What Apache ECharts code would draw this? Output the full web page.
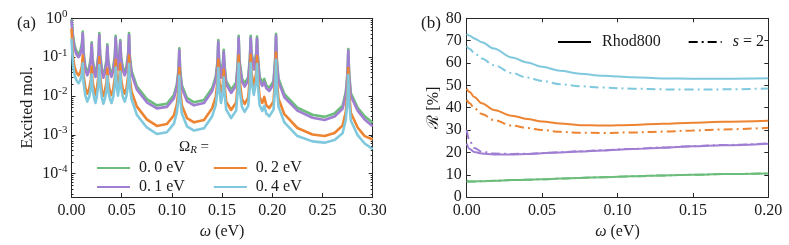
<!DOCTYPE html>
<html><head><meta charset="utf-8">
<script src="https://cdn.jsdelivr.net/npm/echarts@6/dist/echarts.min.js"></script>
<style>html,body{margin:0;padding:0;background:#fff}#c{width:789px;height:245px}</style>
</head><body><div id="c"></div>
<script>
// ---------- Panel (a): excited molecules vs omega (log scale) ----------
const omegaA = [0, 0.0015, 0.003, 0.005, 0.007,
  0.0087, 0.0104, 0.0112, 0.012, 0.0137,
  0.0157, 0.0176, 0.0193, 0.0201, 0.0209,
  0.0226, 0.0239, 0.0252, 0.0269, 0.0277,
  0.0285, 0.0302, 0.0317, 0.0332, 0.0349,
  0.0357, 0.0365, 0.0382, 0.0398, 0.0415,
  0.0432, 0.044, 0.0448, 0.0463, 0.0478,
  0.0486, 0.0494, 0.0511, 0.053, 0.0548,
  0.0565, 0.0573, 0.0581, 0.0598, 0.065,
  0.075, 0.085, 0.095, 0.102, 0.1049,
  0.1066, 0.1074, 0.1082, 0.1099, 0.115,
  0.122, 0.132, 0.14, 0.1437, 0.1454,
  0.1462, 0.147, 0.1489, 0.1508, 0.1516,
  0.1524, 0.1541, 0.159, 0.164, 0.1657,
  0.1665, 0.1673, 0.1698, 0.1725, 0.176,
  0.1777, 0.1785, 0.1793, 0.1816, 0.184,
  0.1848, 0.1856, 0.1873, 0.19, 0.192,
  0.194, 0.197, 0.2012, 0.2029, 0.2037,
  0.2045, 0.2062, 0.212, 0.225, 0.24,
  0.252, 0.262, 0.27, 0.2732, 0.2749,
  0.2757, 0.2765, 0.2782, 0.285, 0.292,
  0.3];
const exc00 = [0.95, 0.355, 0.20, 0.141, 0.120,
  0.141, 0.224, 0.457, 0.135, 0.059,
  0.041, 0.054, 0.100, 0.240, 0.0955,
  0.049, 0.037, 0.054, 0.126, 0.417,
  0.123, 0.051, 0.0355, 0.047, 0.087,
  0.214, 0.089, 0.048, 0.037, 0.0525,
  0.115, 0.355, 0.141, 0.0575, 0.126,
  0.275, 0.105, 0.054, 0.041, 0.0575,
  0.132, 0.417, 0.105, 0.0447, 0.0178,
  0.0083, 0.00575, 0.0063, 0.0105, 0.020,
  0.048, 0.17, 0.048, 0.019, 0.0089,
  0.0069, 0.0079, 0.0158, 0.0316, 0.078,
  0.275, 0.089, 0.0355, 0.071, 0.155,
  0.063, 0.024, 0.0145, 0.0224, 0.079,
  0.355, 0.085, 0.028, 0.021, 0.030,
  0.100, 0.355, 0.132, 0.0575, 0.132,
  0.339, 0.112, 0.0316, 0.0219, 0.0275,
  0.019, 0.0162, 0.024, 0.0955, 0.398,
  0.089, 0.028, 0.0112, 0.005, 0.0033,
  0.0029, 0.00355, 0.0056, 0.0126, 0.040,
  0.162, 0.040, 0.012, 0.005, 0.003,
  0.00204];
const exc01 = [0.89, 0.295, 0.166, 0.117, 0.100,
  0.117, 0.186, 0.407, 0.112, 0.049,
  0.034, 0.045, 0.083, 0.214, 0.079,
  0.041, 0.031, 0.045, 0.105, 0.372,
  0.102, 0.043, 0.0295, 0.039, 0.072,
  0.191, 0.074, 0.040, 0.031, 0.0437,
  0.0955, 0.316, 0.117, 0.048, 0.105,
  0.245, 0.087, 0.045, 0.034, 0.048,
  0.110, 0.372, 0.087, 0.037, 0.0148,
  0.0069, 0.0048, 0.00525, 0.0087, 0.0166,
  0.040, 0.151, 0.040, 0.0158, 0.0074,
  0.00575, 0.0066, 0.0132, 0.0263, 0.065,
  0.245, 0.074, 0.0295, 0.059, 0.138,
  0.0525, 0.020, 0.012, 0.0186, 0.066,
  0.316, 0.071, 0.0234, 0.0174, 0.025,
  0.083, 0.316, 0.110, 0.048, 0.110,
  0.302, 0.093, 0.0263, 0.0182, 0.0229,
  0.0158, 0.0135, 0.020, 0.079, 0.355,
  0.074, 0.0234, 0.0093, 0.0042, 0.00275,
  0.0024, 0.00295, 0.0047, 0.0105, 0.033,
  0.145, 0.033, 0.010, 0.0042, 0.0025,
  0.00166];
const exc02 = [0.55, 0.10, 0.056, 0.040, 0.034,
  0.040, 0.059, 0.110, 0.0355, 0.0166,
  0.0115, 0.0151, 0.0263, 0.0575, 0.0251,
  0.0138, 0.0105, 0.0151, 0.033, 0.100,
  0.0324, 0.0145, 0.0100, 0.0132, 0.0229,
  0.051, 0.0234, 0.0135, 0.0105, 0.0148,
  0.030, 0.085, 0.037, 0.0162, 0.033,
  0.066, 0.0275, 0.0151, 0.0115, 0.0162,
  0.0347, 0.11, 0.0275, 0.0132, 0.0054,
  0.0025, 0.0017, 0.0019, 0.00316, 0.006,
  0.0145, 0.0525, 0.0145, 0.0058, 0.0027,
  0.0021, 0.0024, 0.0048, 0.0095, 0.0234,
  0.087, 0.027, 0.0107, 0.0214, 0.048,
  0.019, 0.0072, 0.00437, 0.0068, 0.024,
  0.11, 0.0257, 0.0085, 0.0063, 0.0091,
  0.030, 0.115, 0.040, 0.0174, 0.040,
  0.107, 0.034, 0.0095, 0.0066, 0.0095,
  0.0058, 0.0049, 0.0072, 0.0288, 0.132,
  0.027, 0.0085, 0.0034, 0.0015, 0.00102,
  0.00093, 0.00112, 0.00174, 0.0039, 0.0123,
  0.0525, 0.0123, 0.0037, 0.00155, 0.00093,
  0.00076];
const exc04 = [0.30, 0.063, 0.035, 0.025, 0.0214,
  0.025, 0.037, 0.069, 0.0224, 0.0105,
  0.0072, 0.0095, 0.0166, 0.0363, 0.0158,
  0.0087, 0.0066, 0.0095, 0.0209, 0.063,
  0.0204, 0.0091, 0.0063, 0.0083, 0.0145,
  0.0324, 0.0148, 0.0085, 0.0066, 0.0093,
  0.019, 0.054, 0.0234, 0.0102, 0.0209,
  0.0417, 0.0174, 0.0095, 0.0072, 0.0102,
  0.0219, 0.066, 0.0174, 0.0083, 0.0033,
  0.00155, 0.00105, 0.00117, 0.00195, 0.0037,
  0.0089, 0.033, 0.0089, 0.00355, 0.00166,
  0.00129, 0.00148, 0.00295, 0.0059, 0.0145,
  0.0525, 0.0166, 0.0066, 0.0132, 0.030,
  0.0117, 0.00447, 0.0027, 0.0042, 0.0148,
  0.068, 0.0158, 0.00525, 0.0039, 0.0056,
  0.0186, 0.071, 0.0245, 0.0107, 0.0245,
  0.066, 0.0209, 0.0059, 0.0041, 0.0056,
  0.00355, 0.003, 0.00447, 0.0178, 0.085,
  0.0166, 0.00525, 0.0021, 0.00093, 0.00068,
  0.00063, 0.00074, 0.0011, 0.00245, 0.0078,
  0.0347, 0.0078, 0.00234, 0.00098, 0.0006,
  0.00043];
const namesA = ['0.0 eV', '0.1 eV', '0.2 eV', '0.4 eV'];
const xTicksA = [0, 0.05, 0.10, 0.15, 0.20, 0.25, 0.30];
const yMajorA = [1e-4, 1e-3, 1e-2, 1e-1, 1];
const yMinorA = [3e-5,4e-5,5e-5,6e-5,7e-5,8e-5,9e-5,
  2e-4,3e-4,4e-4,5e-4,6e-4,7e-4,8e-4,9e-4,
  2e-3,3e-3,4e-3,5e-3,6e-3,7e-3,8e-3,9e-3,
  2e-2,3e-2,4e-2,5e-2,6e-2,7e-2,8e-2,9e-2,
  0.2,0.3,0.4,0.5,0.6,0.7,0.8,0.9];

// ---------- Panel (b): R [%] vs omega ----------
const omegaB = [0, 0.002, 0.005, 0.01, 0.018, 0.03, 0.04, 0.05, 0.062, 0.075, 0.09, 0.11, 0.13, 0.15, 0.17, 0.2];
const rhod00 = [6.9, 6.95, 7.0, 7.1, 7.3, 7.6, 7.8, 8.0, 8.3, 8.6, 8.9, 9.3, 9.7, 10.0, 10.3, 10.6];
const rhod01 = [24.0, 21.5, 20.2, 19.5, 19.1, 19.1, 19.3, 19.6, 20.0, 20.4, 20.9, 21.5, 22.1, 22.7, 23.2, 23.9];
const rhod02 = [48.5, 47.0, 44.8, 42.0, 39.0, 36.4, 35.0, 33.8, 32.9, 32.2, 32.0, 32.3, 32.8, 33.3, 33.7, 34.2];
const rhod04 = [73.0, 72.2, 71.0, 69.3, 66.5, 62.5, 60.2, 58.3, 56.5, 55.2, 54.3, 53.6, 53.1, 53.0, 53.0, 53.2];
const s2_00 = [7.3, 7.0, 7.0, 7.1, 7.3, 7.6, 7.8, 8.0, 8.3, 8.6, 8.9, 9.3, 9.7, 10.0, 10.3, 10.6];
const s2_01 = [30.0, 25.0, 22.0, 20.3, 19.5, 19.3, 19.4, 19.7, 20.1, 20.5, 21.0, 21.6, 22.2, 22.8, 23.3, 24.0];
const s2_02 = [43.5, 42.0, 39.8, 37.2, 34.5, 32.0, 30.9, 30.0, 29.2, 28.8, 28.7, 28.9, 29.3, 29.8, 30.3, 31.0];
const s2_04 = [67.5, 66.3, 64.5, 62.0, 59.0, 55.5, 53.5, 52.0, 50.5, 49.6, 49.0, 48.5, 48.2, 48.1, 48.2, 48.6];
const legendB = ['Rhod800', 's = 2'];

const colors = ['#6cbd7b', '#a07fd3', '#ed8432', '#7fc8dd'];
const FONT = 'Liberation Serif';
const TXT = '#1a1a1a';
const AX = '#262626';
const DASHDOT = [9, 4, 2, 4];

const chart = echarts.init(document.getElementById('c'), null, {renderer: 'canvas'});

function xAxisDef(grid, max, pos, labels) {
  return {
    gridIndex: grid, type: 'value', min: 0, max: max, interval: 0.05, position: pos,
    axisLine: {show: true, onZero: false, lineStyle: {color: AX, width: 1}},
    axisTick: {show: true, inside: true, length: 4, lineStyle: {color: AX, width: 1}},
    axisLabel: {show: labels, formatter: v => v.toFixed(2), fontFamily: FONT, fontSize: 16, color: TXT, margin: 6},
    splitLine: {show: false},
    name: labels ? '{w|ω} (eV)' : '', nameLocation: 'middle', nameGap: 23,
    nameTextStyle: {fontFamily: FONT, fontSize: 16, color: TXT,
      rich: {w: {fontFamily: FONT, fontSize: 16, fontStyle: 'italic', color: TXT}}}
  };
}
function logAxisDef(pos, ticks, len, showLine, labels, name) {
  return {
    gridIndex: 0, type: 'log', logBase: 10, min: 2.5e-5, max: 1, position: pos,
    axisLine: {show: showLine, onZero: false, lineStyle: {color: AX, width: 1}},
    axisTick: {show: true, inside: true, length: len, customValues: ticks, lineStyle: {color: AX, width: 1}},
    axisLabel: {show: labels, customValues: ticks, margin: 4,
      formatter: v => '{b|10}{s|' + Math.round(Math.log10(v)) + '}',
      rich: {b: {fontFamily: FONT, fontSize: 16, color: TXT, lineHeight: 20},
             s: {fontFamily: FONT, fontSize: 11, color: TXT, verticalAlign: 'top', lineHeight: 12}}},
    splitLine: {show: false}, minorTick: {show: false},
    name: name || '', nameLocation: 'middle', nameGap: 36,
    nameTextStyle: {fontFamily: FONT, fontSize: 16, color: TXT}
  };
}
function linAxisDef(pos, labels, name) {
  return {
    gridIndex: 1, type: 'value', min: 0, max: 80, interval: 10, position: pos,
    axisLine: {show: true, onZero: false, lineStyle: {color: AX, width: 1}},
    axisTick: {show: true, inside: true, length: 4, lineStyle: {color: AX, width: 1}},
    axisLabel: {show: labels, fontFamily: FONT, fontSize: 16, color: TXT, margin: 5},
    splitLine: {show: false},
    name: name || '', nameLocation: 'middle', nameGap: 25,
    nameTextStyle: {fontFamily: FONT, fontSize: 16, color: TXT}
  };
}

const series = [];
[exc00, exc01, exc02, exc04].forEach((arr, i) => {
  series.push({
    name: namesA[i], type: 'line', xAxisIndex: 0, yAxisIndex: 0,
    data: omegaA.map((x, k) => [x, arr[k]]),
    symbol: 'none', smooth: false, color: colors[i],
    lineStyle: {width: 2.6, color: colors[i], join: 'round'}, z: 2 + i
  });
});
[[rhod00, s2_00], [rhod01, s2_01], [rhod02, s2_02], [rhod04, s2_04]].forEach((pair, i) => {
  series.push({
    name: 'rhod-' + i, type: 'line', xAxisIndex: 2, yAxisIndex: 4,
    data: omegaB.map((x, k) => [x, pair[0][k]]),
    symbol: 'none', smooth: 0.35, smoothMonotone: 'x', color: colors[i],
    lineStyle: {width: 2, color: colors[i]}, z: 2
  });
  series.push({
    name: 's2-' + i, type: 'line', xAxisIndex: 2, yAxisIndex: 4,
    data: omegaB.map((x, k) => [x, pair[1][k]]),
    symbol: 'none', smooth: 0.35, smoothMonotone: 'x', color: colors[i],
    lineStyle: {width: 2, color: colors[i], type: DASHDOT}, z: 3
  });
});
series.push({name: legendB[0], type: 'line', xAxisIndex: 2, yAxisIndex: 4, data: [], symbol: 'none',
  color: '#000', lineStyle: {width: 2.2, color: '#000'}});
series.push({name: legendB[1], type: 'line', xAxisIndex: 2, yAxisIndex: 4, data: [], symbol: 'none',
  color: '#000', lineStyle: {width: 2.2, color: '#000', type: DASHDOT}});

const legendText = {fontFamily: FONT, fontSize: 16, color: TXT, padding: [0, 0, 0, 4]};
const fmtA = n => n.replace('.', '.\u2009');
chart.setOption({
  animation: false,
  backgroundColor: '#fff',
  title: [
    {text: '(a)', left: 12, top: 10, textStyle: {fontFamily: FONT, fontSize: 17, fontWeight: 'normal', color: TXT}},
    {text: '(b)', left: 416, top: 10, textStyle: {fontFamily: FONT, fontSize: 17, fontWeight: 'normal', color: TXT}},
    {text: '{a|Ω}{s|R}{a| =}', left: 174, top: 133,
      textStyle: {fontFamily: FONT, fontSize: 15, fontWeight: 'normal', color: TXT,
        rich: {a: {fontFamily: FONT, fontSize: 15, color: TXT, lineHeight: 18},
               s: {fontFamily: FONT, fontSize: 11, fontStyle: 'italic', color: TXT, verticalAlign: 'bottom', lineHeight: 11}}}}
  ],
  grid: [
    {left: 71.5, right: 416.3, top: 18.3, bottom: 47.5},
    {left: 466.7, right: 20.7, top: 18.3, bottom: 47.5}
  ],
  legend: [
    {data: [namesA[0], namesA[2]], left: 91, top: 155, itemWidth: 33, itemHeight: 14, itemGap: 28,
      formatter: fmtA, itemStyle: {opacity: 0}, textStyle: legendText, selectedMode: false},
    {data: [namesA[1], namesA[3]], left: 91, top: 174, itemWidth: 33, itemHeight: 14, itemGap: 28,
      formatter: fmtA, itemStyle: {opacity: 0}, textStyle: legendText, selectedMode: false},
    {data: legendB, left: 552, top: 29, itemWidth: 33, itemHeight: 14, itemGap: 27, selectedMode: false,
      itemStyle: {opacity: 0},
      formatter: n => n === 's = 2' ? '{i|s} = 2' : n,
      textStyle: {fontFamily: FONT, fontSize: 16, color: TXT, padding: [0, 0, 0, 6],
        rich: {i: {fontFamily: FONT, fontSize: 16, fontStyle: 'italic', color: TXT}}}}
  ],
  xAxis: [
    xAxisDef(0, 0.3, 'bottom', true),
    xAxisDef(0, 0.3, 'top', false),
    xAxisDef(1, 0.2, 'bottom', true),
    xAxisDef(1, 0.2, 'top', false)
  ],
  yAxis: [
    logAxisDef('left', yMajorA, 4, true, true, 'Excited mol.'),
    logAxisDef('right', yMajorA, 4, true, false),
    logAxisDef('left', yMinorA, 2, false, false),
    logAxisDef('right', yMinorA, 2, false, false),
    linAxisDef('left', true, 'ℛ [%]'),
    linAxisDef('right', false)
  ],
  series: series
});
</script></body></html>
